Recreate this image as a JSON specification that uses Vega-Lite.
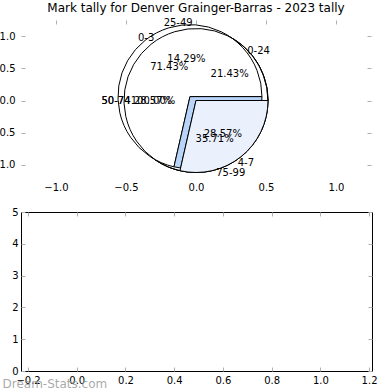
{
  "$schema": "https://vega.github.io/schema/vega-lite/v6.json",
  "padding": {"left": -10, "top": 1, "right": 0, "bottom": 0},
  "config": {
    "font": "DejaVu Sans",
    "axis": {"labelFont": "DejaVu Sans", "labelFontSize": 10, "labelColor": "black", "tickColor": "#b0b0b0", "tickSize": -4, "domain": false, "grid": false},
    "text": {"font": "DejaVu Sans", "fontSize": 10, "color": "black"}
  },
  "datasets": {
    "pieA": [
      {"label": "0-24", "share": 0.2143, "k": 1},
      {"label": "25-49", "share": 0.1429, "k": 2},
      {"label": "50-74", "share": 0.2857, "k": 3},
      {"label": "75-99", "share": 0.3571, "k": 4}
    ],
    "pieB": [
      {"label": "0-3", "share": 0.7143, "k": 1},
      {"label": "4-7", "share": 0.2857, "k": 2}
    ],
    "pieC": [
      {"label": "50-74", "share": 1.0, "k": 1}
    ],
    "empty": []
  },
  "spacing": 14,
  "vconcat": [
    {
      "width": 350,
      "height": 161,
      "title": {"text": "Mark tally for Denver Grainger-Barras - 2023 tally", "fontSize": 12, "fontWeight": "normal", "font": "DejaVu Sans", "offset": 3},
      "view": {"stroke": null},
      "resolve": {"axis": {"x": "independent", "y": "independent"}},
      "layer": [
        {
          "data": {"name": "pieC"},
          "mark": {"type": "arc", "outerRadius": 72, "stroke": "black", "strokeWidth": 1, "fill": "white"},
          "encoding": {
            "theta": {"field": "share", "type": "quantitative", "stack": "normalize", "scale": {"domain": [0, 1], "range": [1.5708, -4.7124]}},
            "order": {"field": "k", "type": "quantitative"},
            "x": {"datum": 0, "type": "quantitative", "scale": {"domain": [-1.25, 1.25], "nice": false}, "axis": {"orient": "bottom", "values": [-1, -0.5, 0, 0.5, 1], "format": ".1f", "ticks": false, "labelPadding": 1, "title": null}},
            "y": {"datum": 0, "type": "quantitative", "scale": {"domain": [-1.25, 1.25], "nice": false}, "axis": {"orient": "left", "values": [-1, -0.5, 0, 0.5, 1], "format": ".1f", "labelPadding": 10, "title": null}}
          }
        },
        {
          "data": {"name": "pieA"},
          "mark": {"type": "arc", "outerRadius": 72, "stroke": "black", "strokeWidth": 1, "fill": "white"},
          "encoding": {
            "theta": {"field": "share", "type": "quantitative", "stack": "normalize", "scale": {"domain": [0, 1], "range": [1.5708, -4.7124]}},
            "order": {"field": "k", "type": "quantitative"},
            "x": {"datum": 0, "type": "quantitative", "axis": {"orient": "top", "values": [-1, -0.5, 0, 0.5, 1], "labels": false, "title": null}},
            "y": {"datum": 0, "type": "quantitative", "axis": {"orient": "right", "values": [-1, -0.5, 0, 0.5, 1], "labels": false, "title": null}}
          }
        },
        {
          "data": {"name": "pieB"},
          "mark": {"type": "arc", "outerRadius": 72, "stroke": "black", "strokeWidth": 1},
          "encoding": {
            "theta": {"field": "share", "type": "quantitative", "stack": "normalize", "scale": {"domain": [0, 1], "range": [1.5708, -4.7124]}},
            "order": {"field": "k", "type": "quantitative"},
            "fill": {"condition": {"test": "datum.label === '4-7'", "value": "#b8d4f8"}, "value": "white"},
            "x": {"datum": -0.043, "type": "quantitative", "axis": null},
            "y": {"datum": 0.06, "type": "quantitative", "axis": null}
          }
        },
        {
          "data": {"name": "pieB"},
          "mark": {"type": "arc", "outerRadius": 72, "stroke": "black", "strokeWidth": 1},
          "encoding": {
            "theta": {"field": "share", "type": "quantitative", "stack": "normalize", "scale": {"domain": [0, 1], "range": [1.5708, -4.7124]}},
            "order": {"field": "k", "type": "quantitative"},
            "fill": {"condition": {"test": "datum.label === '4-7'", "value": "#eaf1fd"}, "value": "transparent"},
            "x": {"datum": 0, "type": "quantitative", "axis": null},
            "y": {"datum": 0, "type": "quantitative", "axis": null}
          }
        },
        {
          "data": {"name": "pieC"},
          "mark": {"type": "text", "radius": 80},
          "encoding": {
            "theta": {"field": "share", "type": "quantitative", "stack": "normalize", "scale": {"domain": [0, 1], "range": [1.5708, -4.7124]}},
            "order": {"field": "k", "type": "quantitative"},
            "text": {"field": "label"}
          }
        },
        {
          "data": {"name": "pieC"},
          "mark": {"type": "text", "radius": 43},
          "encoding": {
            "theta": {"field": "share", "type": "quantitative", "stack": "normalize", "scale": {"domain": [0, 1], "range": [1.5708, -4.7124]}},
            "order": {"field": "k", "type": "quantitative"},
            "text": {"field": "share", "type": "quantitative", "format": ".2%"}
          }
        },
        {
          "data": {"name": "pieA"},
          "mark": {"type": "text", "radius": 80},
          "encoding": {
            "theta": {"field": "share", "type": "quantitative", "stack": "normalize", "scale": {"domain": [0, 1], "range": [1.5708, -4.7124]}},
            "order": {"field": "k", "type": "quantitative"},
            "text": {"field": "label"}
          }
        },
        {
          "data": {"name": "pieA"},
          "mark": {"type": "text", "radius": 43},
          "encoding": {
            "theta": {"field": "share", "type": "quantitative", "stack": "normalize", "scale": {"domain": [0, 1], "range": [1.5708, -4.7124]}},
            "order": {"field": "k", "type": "quantitative"},
            "text": {"field": "share", "type": "quantitative", "format": ".2%"}
          }
        },
        {
          "data": {"name": "pieB"},
          "mark": {"type": "text", "radius": 80},
          "encoding": {
            "theta": {"field": "share", "type": "quantitative", "stack": "normalize", "scale": {"domain": [0, 1], "range": [1.5708, -4.7124]}},
            "order": {"field": "k", "type": "quantitative"},
            "text": {"field": "label"}
          }
        },
        {
          "data": {"name": "pieB"},
          "mark": {"type": "text", "radius": 43},
          "encoding": {
            "theta": {"field": "share", "type": "quantitative", "stack": "normalize", "scale": {"domain": [0, 1], "range": [1.5708, -4.7124]}},
            "order": {"field": "k", "type": "quantitative"},
            "text": {"field": "share", "type": "quantitative", "format": ".2%"}
          }
        }
      ]
    },
    {
      "width": 351,
      "height": 159,
      "view": {"stroke": "black", "strokeWidth": 1},
      "resolve": {"axis": {"x": "independent", "y": "independent"}},
      "layer": [
        {
          "data": {"name": "empty"},
          "mark": {"type": "point"},
          "encoding": {
            "x": {"field": "a", "type": "quantitative", "scale": {"domain": [-0.229, 1.212], "nice": false, "zero": false}, "axis": {"orient": "bottom", "values": [-0.2, 0, 0.2, 0.4, 0.6, 0.8, 1.0, 1.2], "format": ".1f", "labelPadding": 8, "title": "Dream-Stats.com", "titleColor": "#999999", "titleFontSize": 12, "titleFontWeight": "normal", "titleOpacity": 0.85, "titleAnchor": "start", "titleAlign": "left", "titleX": -19, "titleY": 12, "titleBaseline": "middle"}},
            "y": {"field": "b", "type": "quantitative", "scale": {"domain": [0, 5], "nice": false}, "axis": {"orient": "left", "values": [0, 1, 2, 3, 4, 5], "labelPadding": 7, "title": null}}
          }
        },
        {
          "data": {"name": "empty"},
          "mark": {"type": "point"},
          "encoding": {
            "x": {"field": "a", "type": "quantitative", "axis": {"orient": "top", "values": [-0.2, 0, 0.2, 0.4, 0.6, 0.8, 1.0, 1.2], "labels": false, "title": null}},
            "y": {"field": "b", "type": "quantitative", "axis": {"orient": "right", "values": [0, 1, 2, 3, 4, 5], "labels": false, "title": null}}
          }
        }
      ]
    }
  ]
}
